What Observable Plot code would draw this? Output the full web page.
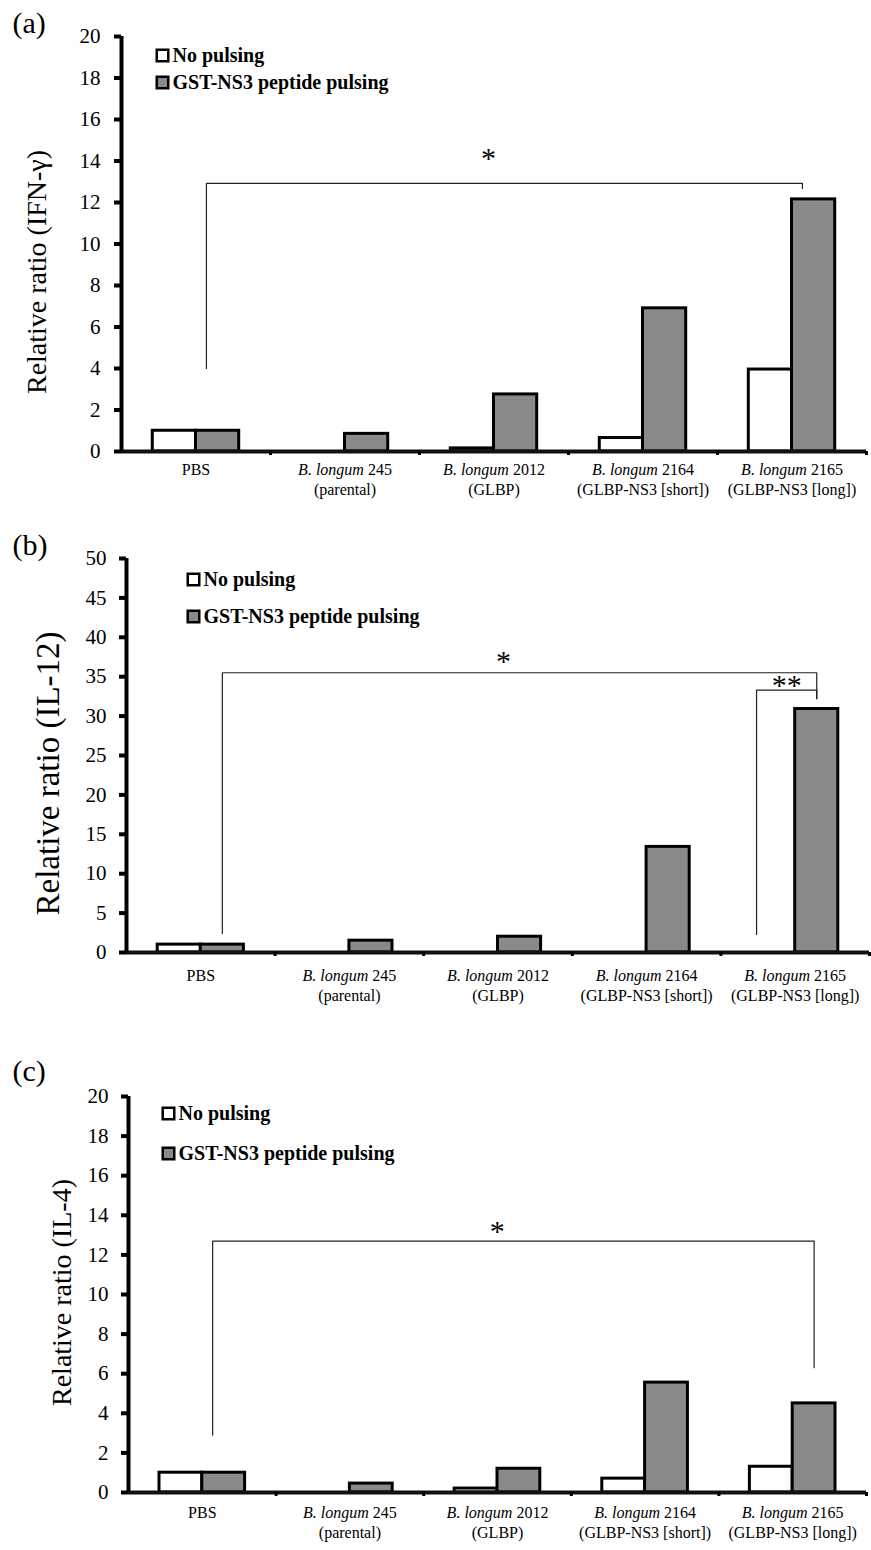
<!DOCTYPE html>
<html><head><meta charset="utf-8">
<script src="https://cdn.jsdelivr.net/npm/d3@7"></script>
<script src="https://cdn.jsdelivr.net/npm/@observablehq/plot@0.6"></script>
<style>
body{margin:0;background:#fff;}
#chart{width:871px;}
#chart svg{display:block;}
</style></head><body><div id="chart"></div>
<script>
// ---------- data ----------
const categories = [
  "PBS",
  "B. longum 245\n(parental)",
  "B. longum 2012\n(GLBP)",
  "B. longum 2164\n(GLBP-NS3 [short])",
  "B. longum 2165\n(GLBP-NS3 [long])"
];
const seriesNames = ["No pulsing", "GST-NS3 peptide pulsing"];

const ifnNoPulsing   = [1.0, 0, 0.15, 0.65, 3.95];
const ifnPulsing     = [1.0, 0.85, 2.75, 6.9, 12.15];
const il12NoPulsing  = [1.0, 0, 0, 0, 0];
const il12Pulsing    = [1.0, 1.5, 2.0, 13.4, 30.9];
const il4NoPulsing   = [1.0, 0, 0.2, 0.7, 1.3];
const il4Pulsing     = [1.0, 0.45, 1.2, 5.55, 4.5];

const ifnTicks  = [0, 2, 4, 6, 8, 10, 12, 14, 16, 18, 20];
const il12Ticks = [0, 5, 10, 15, 20, 25, 30, 35, 40, 45, 50];
const il4Ticks  = [0, 2, 4, 6, 8, 10, 12, 14, 16, 18, 20];

// significance brackets: categories joined, bar anchor, heights (data units)
const ifnBrackets = [
  {from: 0, fromAt: "mid", to: 4, toAt: "mid", top: 12.92, leftEnd: 4.0, rightEnd: 12.67, label: "*"}
];
const il12Brackets = [
  {from: 0, fromAt: "pulse", to: 4, toAt: "pulse", top: 35.5, leftEnd: 2.4, rightEnd: 32.2, label: "*"},
  {from: 4, fromAt: "edge", to: 4, toAt: "pulse", top: 33.3, leftEnd: 2.3, rightEnd: 32.2, label: "**"}
];
const il4Brackets = [
  {from: 0, fromAt: "mid", to: 4, toAt: "pulse", top: 12.7, leftEnd: 2.9, rightEnd: 6.3, label: "*"}
];

// ---------- drawing ----------
const FONT = "'Liberation Serif', 'Times New Roman', serif";
const BAR = 0.29;             // bar width in category units
const anchorOffset = {mid: 0.07, pulse: 0.145, none: -0.145, edge: -0.26};

function panel(o) {
  const bars = [];
  o.none.forEach((v, i) => { if (v > 0) bars.push({i, s: 0, v}); });
  o.pulse.forEach((v, i) => { if (v > 0) bars.push({i, s: 1, v}); });
  const pts = [];
  o.brackets.forEach((b, k) => {
    const xa = b.from + anchorOffset[b.fromAt], xb = b.to + anchorOffset[b.toAt];
    pts.push({k, x: xa, y: b.leftEnd}, {k, x: xa, y: b.top}, {k, x: xb, y: b.top}, {k, x: xb, y: b.rightEnd});
  });
  const stars = o.brackets.map(b => ({
    x: ((b.from + anchorOffset[b.fromAt]) + (b.to + anchorOffset[b.toAt])) / 2,
    y: b.top, label: b.label
  }));
  const single = stars.filter(s => s.label.length === 1);
  const double = stars.filter(s => s.label.length > 1);

  const svg = Plot.plot({
    width: 871,
    height: o.height,
    marginTop: o.mt, marginBottom: o.mb, marginLeft: o.ml, marginRight: o.mr,
    style: {fontFamily: FONT, background: "#fff", color: "#000", overflow: "visible"},
    x: {type: "linear", domain: [-0.5, 4.5], axis: null},
    y: {domain: [0, o.ymax], axis: null},
    marks: [
      Plot.rectY(bars, {
        x1: d => d.i + (d.s === 0 ? -BAR : 0),
        x2: d => d.i + (d.s === 0 ? 0 : BAR),
        y1: 0, y2: "v",
        fill: d => d.s === 0 ? "#ffffff" : "#8a8a8a",
        stroke: "#000", strokeWidth: 3
      }),
      Plot.ruleY([0], {stroke: "#111", strokeWidth: 4}),
      Plot.ruleX([-0.5], {stroke: "#000", strokeWidth: 4}),
      Plot.axisY({ticks: o.ticks, tickSize: 7, tickPadding: o.tp, strokeWidth: 4,
        fontSize: o.tickFont, label: null, fill: "#000"}),
      Plot.axisX({ticks: [0.5, 1.5, 2.5, 3.5, 4.5], tickSize: 4, strokeWidth: 3,
        tickFormat: () => "", label: null}),
      Plot.text(categories, {x: (d, i) => i, frameAnchor: "bottom", lineAnchor: "top",
        dy: o.labDy, fontSize: 16, lineHeight: 1.25, fill: "#000"}),
      Plot.line(pts, {x: "x", y: "y", z: "k", stroke: "#222", strokeWidth: 1.2}),
      Plot.text(single, {x: "x", y: "y", text: "label", fontSize: 30, dx: -16,
        lineAnchor: "bottom", dy: o.starDy, fill: "#000"}),
      Plot.text(double, {x: "x", y: "y", text: "label", fontSize: 30, dx: 0,
        lineAnchor: "bottom", dy: o.starDy + 7, fill: "#000"}),
      // y label
      Plot.text([o.yLabel], {frameAnchor: "left", textAnchor: "middle", lineAnchor: "middle",
        rotate: -90, dx: o.ylDx, dy: o.ylDy, fontSize: o.ylFont, fill: "#000"}),
      // panel tag
      Plot.text([o.tag], {frameAnchor: "top-left", textAnchor: "start", lineAnchor: "middle",
        dx: o.tagDx, dy: o.tagDy, fontSize: 30, fill: "#000"}),
      // legend
      Plot.dot([seriesNames[0]], {frameAnchor: "top-left", symbol: "square", r: 6.5,
        fill: "#fff", stroke: "#000", strokeWidth: 2.5, dx: o.lgDx, dy: o.lgDy1}),
      Plot.dot([seriesNames[1]], {frameAnchor: "top-left", symbol: "square", r: 6.5,
        fill: "#8a8a8a", stroke: "#000", strokeWidth: 2.5, dx: o.lgDx, dy: o.lgDy2}),
      Plot.text([seriesNames[0]], {frameAnchor: "top-left", textAnchor: "start", lineAnchor: "middle",
        fontWeight: "bold", fontSize: 20, dx: o.lgDx + 10, dy: o.lgDy1, fill: "#000"}),
      Plot.text([seriesNames[1]], {frameAnchor: "top-left", textAnchor: "start", lineAnchor: "middle",
        fontWeight: "bold", fontSize: 20, dx: o.lgDx + 10, dy: o.lgDy2, fill: "#000"})
    ]
  });

  // italicise the species name in category labels
  const ns = "http://www.w3.org/2000/svg";
  svg.querySelectorAll("text, tspan").forEach(el => {
    if (el.childElementCount === 0 && el.textContent.startsWith("B. longum ")) {
      const rest = el.textContent.slice("B. longum".length);
      el.textContent = "";
      const it = document.createElementNS(ns, "tspan");
      it.setAttribute("font-style", "italic");
      it.textContent = "B. longum";
      const rt = document.createElementNS(ns, "tspan");
      rt.textContent = rest;
      el.append(it, rt);
    }
  });
  return svg;
}

const root = document.getElementById("chart");
root.append(panel({
  tag: "(a)", none: ifnNoPulsing, pulse: ifnPulsing, ticks: ifnTicks, ymax: 20,
  brackets: ifnBrackets, yLabel: "Relative ratio (IFN-γ)",
  height: 520, mt: 36, mb: 69, ml: 121, mr: 5, tp: 14, tickFont: 21,
  labDy: 9, starDy: -15, ylDx: -84, ylDy: 28, ylFont: 28,
  tagDx: -109, tagDy: -13, lgDx: 41, lgDy1: 19, lgDy2: 46
}));
root.append(panel({
  tag: "(b)", none: il12NoPulsing, pulse: il12Pulsing, ticks: il12Ticks, ymax: 50,
  brackets: il12Brackets, yLabel: "Relative ratio (IL-12)",
  height: 526, mt: 38, mb: 94, ml: 126, mr: 2, tp: 13, tickFont: 21,
  labDy: 14, starDy: -2, ylDx: -78, ylDy: 18, ylFont: 33,
  tagDx: -114, tagDy: -13, lgDx: 67, lgDy1: 21, lgDy2: 58
}));
root.append(panel({
  tag: "(c)", none: il4NoPulsing, pulse: il4Pulsing, ticks: il4Ticks, ymax: 20,
  brackets: il4Brackets, yLabel: "Relative ratio (IL-4)",
  height: 504, mt: 50, mb: 58, ml: 128, mr: 5, tp: 13, tickFont: 21,
  labDy: 11, starDy: 0, ylDx: -66, ylDy: -2, ylFont: 28,
  tagDx: -116, tagDy: -25, lgDx: 40, lgDy1: 17, lgDy2: 57
}));
</script></body></html>
